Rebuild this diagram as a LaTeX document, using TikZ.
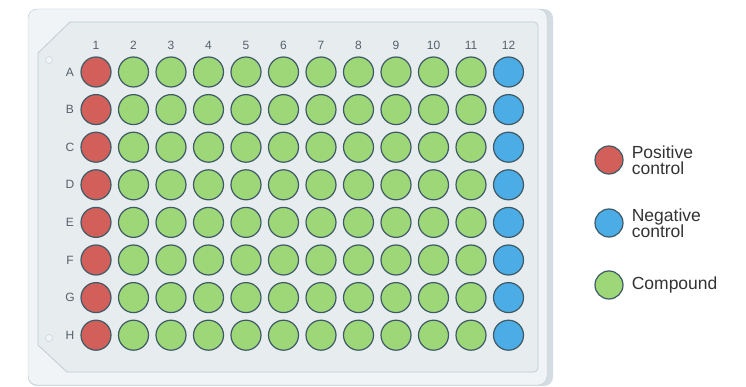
\documentclass[tikz,border=0pt]{standalone}
\usepackage{fontspec}
\setmainfont{Liberation Sans}
\usetikzlibrary{positioning}

\definecolor{posred}{HTML}{D35F5B}
\definecolor{cmpgreen}{HTML}{9DD778}
\definecolor{negblue}{HTML}{4BACE6}
\definecolor{wellrim}{HTML}{3E5A66}
\definecolor{platefill}{HTML}{F1F4F6}
\definecolor{plateshade}{HTML}{D3DCE2}
\definecolor{panelfill}{HTML}{E7ECEF}
\definecolor{plateline}{HTML}{C2CCD3}
\definecolor{labelgray}{HTML}{55616B}

\tikzset{
  well/.style={circle, draw=wellrim, line width=1.2pt, minimum size=30pt, inner sep=0pt},
  axislabel/.style={text=labelgray, font=\fontsize{12}{12}\selectfont, inner sep=0pt},
  legendtext/.style={text=black!80, font=\fontsize{17.5}{16.5}\selectfont, align=left, anchor=west, inner sep=0pt}
}

\begin{document}
\begin{tikzpicture}[x=1pt, y=-1pt]
\useasboundingbox (0,0) rectangle (746,387);

% Plate body
\fill[plateshade, rounded corners=9pt] (28,9) rectangle (553,386);
\filldraw[fill=platefill, draw=plateline, rounded corners=9pt] (28,9) rectangle (547,385);
\filldraw[fill=panelfill, draw=plateline, line width=0.8pt]
  (38,53) -- (70,22) [rounded corners=4pt] -- (538,22) -- (538,372) [sharp corners] -- (67,372) -- (38,345) -- cycle;

% Alignment holes
\node[circle, draw=plateline, fill=platefill, minimum size=7pt, inner sep=0pt] (holetop) at (49,60) {};
\node[circle, draw=plateline, fill=platefill, minimum size=7pt, inner sep=0pt] (holebot) at (49,338) {};

% Column numbers
\foreach \c in {1,...,12}
  \node[axislabel] (col-\c) at ({96+(\c-1)*37.5},45) {\c};

% Row letters and wells
\foreach \r/\lab in {1/A,2/B,3/C,4/D,5/E,6/F,7/G,8/H} {
  \node[axislabel] (row-\lab) at (70,{72+(\r-1)*37.6}) {\lab};
  \foreach \c in {1,...,12} {
    \ifnum\c=1 \def\wcol{posred}\else\ifnum\c=12 \def\wcol{negblue}\else\def\wcol{cmpgreen}\fi\fi
    \node[well, fill=\wcol] (w-\lab-\c) at ({96+(\c-1)*37.5},{72+(\r-1)*37.6}) {};
  }
}

% Legend
\node[well, fill=posred, minimum size=28pt] (keypos) at (609,160) {};
\node[well, fill=negblue, minimum size=28pt] (keyneg) at (609,223) {};
\node[well, fill=cmpgreen, minimum size=28pt] (keycmp) at (609,285) {};
\node[legendtext, right=8pt of keypos] (txtpos) {Positive\\control};
\node[legendtext, right=8pt of keyneg] (txtneg) {Negative\\control};
\node[legendtext, right=8pt of keycmp] (txtcmp) {Compound};

\end{tikzpicture}
\end{document}
